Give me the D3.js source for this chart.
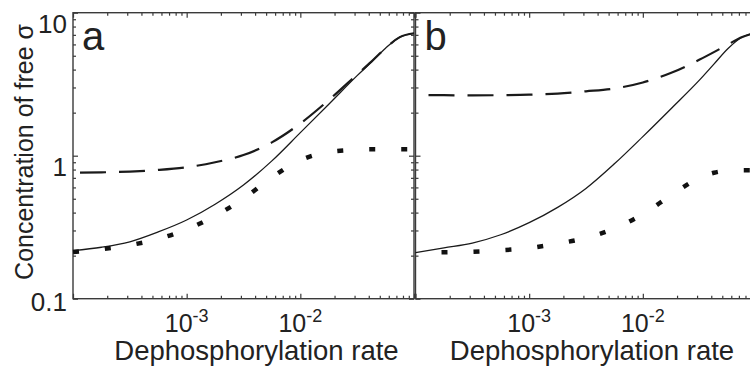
<!DOCTYPE html>
<html>
<head>
<meta charset="utf-8">
<script src="https://cdn.jsdelivr.net/npm/d3@7"></script>
<style>
body { margin: 0; background: #fff; }
svg { display: block; font-family: "Liberation Sans", Arial, sans-serif; }
</style>
</head>
<body>
<script>
// dephosphorylation rate grid (same for both panels)
var rate = [1e-4, 1.78e-4, 3.16e-4, 5.62e-4, 1e-3, 1.78e-3, 3.16e-3, 5.62e-3,
            1e-2, 1.78e-2, 3.16e-2, 4.22e-2, 5.62e-2, 7.5e-2, 1e-1];

// panel a
var solidA  = [0.217, 0.229, 0.25, 0.293, 0.355, 0.458, 0.624, 0.92, 1.45, 2.29, 3.63, 4.52, 5.65, 6.75, 7.18];
var dashedA = [0.76, 0.765, 0.775, 0.795, 0.83, 0.90, 1.01, 1.24, 1.68, 2.45, 3.7, 4.55, 5.65, 6.75, 7.18];
var dottedA = [0.212, 0.222, 0.237, 0.262, 0.305, 0.38, 0.50, 0.705, 0.93, 1.06, 1.10, 1.11, 1.11, 1.11, 1.11];

// panel b
var solidB  = [0.21, 0.227, 0.245, 0.28, 0.34, 0.435, 0.59, 0.877, 1.36, 2.14, 3.39, 4.37, 5.62, 6.76, 7.25];
var dashedB = [2.66, 2.65, 2.64, 2.65, 2.67, 2.72, 2.82, 2.95, 3.25, 3.8, 4.7, 5.3, 6.0, 6.76, 7.25];
var dottedB = [0.21, 0.211, 0.213, 0.218, 0.226, 0.243, 0.266, 0.31, 0.39, 0.53, 0.70, 0.76, 0.785, 0.79, 0.79];

var panelLetters = ["a", "b"];
var xTickLabels = [1e-3, 1e-2];
var yTickLabels = [0.1, 1, 10];
var xTitle = "Dephosphorylation rate";
var yTitle = "Concentration of free \u03c3";

var W = 750, H = 371;
var plotTop = 12.7, plotBottom = 298.7, panelW = 341;
var axisColor = "#3a3a3a";

var panels = [
    {left: 73,    letter: panelLetters[0], solid: solidA, dashed: dashedA, dotted: dottedA, dashOff: 32, dotOff: 0, titleShift: 13},
    {left: 415.5, letter: panelLetters[1], solid: solidB, dashed: dashedB, dotted: dottedB, dashOff: 26, dotOff: 6, titleShift: 6}
];

function isMajor(d) {
    var l = Math.log10(d);
    return Math.abs(l - Math.round(l)) < 1e-6;
}

var svg = d3.select("body").append("svg")
    .attr("width", W)
    .attr("height", H);

var y = d3.scaleLog().domain([0.1, 10]).range([plotBottom, plotTop]);

panels.forEach(function(p, i) {
    var x = d3.scaleLog().domain([1e-4, 1e-1]).range([p.left, p.left + panelW]);
    var g = svg.append("g");

    // ticks on all four sides, pointing inward
    var axes = [
        {ax: d3.axisBottom(x), t: "translate(0," + plotBottom + ")", dir: -1, attr: "y2"},
        {ax: d3.axisTop(x),    t: "translate(0," + plotTop + ")",    dir: 1,  attr: "y2"},
        {ax: d3.axisLeft(y),   t: "translate(" + p.left + ",0)",     dir: 1,  attr: "x2"},
        {ax: d3.axisRight(y),  t: "translate(" + (p.left + panelW) + ",0)", dir: -1, attr: "x2"}
    ];
    axes.forEach(function(a) {
        var ag = g.append("g")
            .attr("transform", a.t)
            .call(a.ax.tickSizeOuter(0).tickFormat(""));
        ag.select(".domain").remove();
        ag.selectAll(".tick line")
            .attr("stroke", axisColor)
            .attr("stroke-width", 1.2)
            .attr(a.attr, function(d) { return a.dir * (isMajor(d) ? 5 : 3); });
    });

    // frame
    g.append("rect")
        .attr("x", p.left)
        .attr("y", plotTop)
        .attr("width", panelW)
        .attr("height", plotBottom - plotTop)
        .attr("fill", "none")
        .attr("stroke", axisColor)
        .attr("stroke-width", 1.4);

    var line = d3.line()
        .x(function(d) { return x(d[0]); })
        .y(function(d) { return y(d[1]); })
        .curve(d3.curveMonotoneX);

    g.append("path")
        .attr("d", line(d3.zip(rate, p.solid)))
        .attr("fill", "none")
        .attr("stroke", "#1a1a1a")
        .attr("stroke-width", 1.3);

    g.append("path")
        .attr("d", line(d3.zip(rate, p.dashed)))
        .attr("fill", "none")
        .attr("stroke", "#1a1a1a")
        .attr("stroke-width", 2.2)
        .attr("stroke-dasharray", "26,13")
        .attr("stroke-dashoffset", p.dashOff);

    g.append("path")
        .attr("d", line(d3.zip(rate, p.dotted)))
        .attr("fill", "none")
        .attr("stroke", "#111")
        .attr("stroke-width", 4.5)
        .attr("stroke-dasharray", "6,26")
        .attr("stroke-dashoffset", p.dotOff);

    // x tick labels 10^-3, 10^-2
    xTickLabels.forEach(function(v) {
        var t = g.append("text")
            .attr("x", x(v))
            .attr("y", 332)
            .attr("text-anchor", "middle")
            .attr("fill", "#222");
        t.append("tspan").style("font-size", "25px").text("10");
        t.append("tspan").style("font-size", "18px").attr("dy", -10)
            .text(String(Math.round(Math.log10(v))));
    });

    // x axis title
    g.append("text")
        .attr("x", p.left + panelW / 2 + p.titleShift)
        .attr("y", 360)
        .attr("text-anchor", "middle")
        .style("font-size", "27.5px")
        .attr("fill", "#222")
        .text(xTitle);

    // panel letter
    g.append("text")
        .attr("x", p.left + 9)
        .attr("y", 50)
        .style("font-size", "40px")
        .attr("fill", "#222")
        .text(p.letter);
});

// y tick labels
yTickLabels.forEach(function(v) {
    svg.append("text")
        .attr("x", 67)
        .attr("y", y(v) + (v === 0.1 ? 12 : 20))
        .attr("text-anchor", "end")
        .style("font-size", "26px")
        .attr("fill", "#222")
        .text(v);
});

// y axis title
svg.append("text")
    .attr("transform", "translate(33,152) rotate(-90)")
    .attr("text-anchor", "middle")
    .style("font-size", "25px")
    .attr("fill", "#222")
    .text(yTitle);
</script>
</body>
</html>
